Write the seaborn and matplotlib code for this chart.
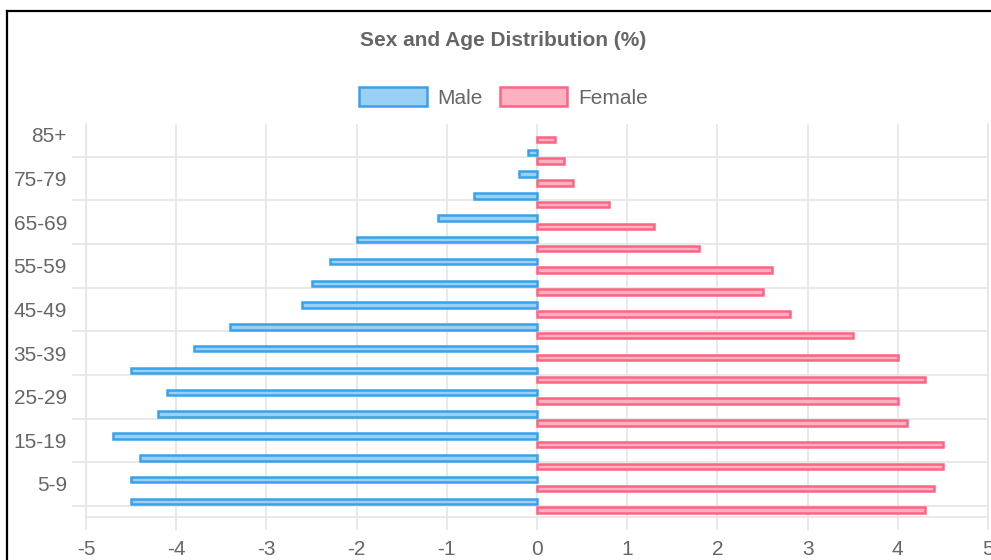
import matplotlib
matplotlib.use("Agg")
import matplotlib.pyplot as plt
import seaborn as sns
import pandas as pd
from matplotlib.patches import Patch
from matplotlib.lines import Line2D

# ---- data ----
age_groups = ["0-4", "5-9", "10-14", "15-19", "20-24", "25-29", "30-34", "35-39",
              "40-44", "45-49", "50-54", "55-59", "60-64", "65-69", "70-74",
              "75-79", "80-84", "85+"]
male = [-4.5, -4.5, -4.4, -4.7, -4.2, -4.1, -4.5, -3.8, -3.4, -2.6, -2.5, -2.3,
        -2.0, -1.1, -0.7, -0.2, -0.1, 0.0]
female = [4.3, 4.4, 4.5, 4.5, 4.1, 4.0, 4.3, 4.0, 3.5, 2.8, 2.5, 2.6, 1.8, 1.3,
          0.8, 0.4, 0.3, 0.2]
series = ["Male", "Female"]
x_ticks = [-5, -4, -3, -2, -1, 0, 1, 2, 3, 4, 5]
title = "Sex and Age Distribution (%)"

# ---- styles ----
edge_colors = {"Male": "#36A2EB", "Female": "#FF6384"}
fill_colors = {"Male": "#9BD0F5", "Female": "#FFB1C1"}
grid_c = "#e5e5e5"
text_c = "#666666"

plt.rcParams["font.family"] = ["Liberation Sans", "DejaVu Sans"]

df = pd.DataFrame({
    "Age": age_groups * 2,
    "Value": male + female,
    "Sex": ["Male"] * len(age_groups) + ["Female"] * len(age_groups),
})
order = age_groups[::-1]

W, H = 991, 560
fig = plt.figure(figsize=(W / 100, H / 100), dpi=100)
ax = fig.add_axes([86 / W, (H - 516.7) / H, (988 - 86) / W, (516.7 - 124) / H])

sns.barplot(data=df, x="Value", y="Age", hue="Sex", order=order,
            hue_order=series, palette=fill_colors, orient="h", gap=0.37,
            errorbar=None, saturation=1, legend=False, ax=ax)

for cont, name in zip(ax.containers, series):
    for bar in cont:
        bar.set_edgecolor(edge_colors[name])
        bar.set_linewidth(1.8 if abs(bar.get_width()) > 1e-9 else 0)

ax.set_xlabel("")
ax.set_ylabel("")
ax.set_xlim(-5, 5)
ax.set_ylim(len(order) - 0.5, -0.5)
ax.set_xticks(x_ticks)
ax.set_xticklabels([str(t) for t in x_ticks])
ax.set_yticks(range(0, len(order), 2))
ax.set_yticklabels(order[::2])
ax.set_yticks(range(1, len(order), 2), minor=True)

ax.set_axisbelow(True)
ax.grid(axis="x", which="major", color=grid_c, lw=1.2)
ax.grid(axis="y", which="minor", color=grid_c, lw=1.2)
ax.grid(axis="y", which="major", visible=False)

ax.tick_params(axis="x", which="major", length=9.5, width=1.2, color=grid_c,
               pad=7, labelsize=15, labelcolor=text_c)
ax.tick_params(axis="y", which="major", length=0, pad=13.7,
               labelsize=15, labelcolor=text_c)
ax.tick_params(axis="y", which="minor", length=10, width=1.2, color=grid_c)

for side in ["left", "right", "bottom"]:
    ax.spines[side].set_color(grid_c)
    ax.spines[side].set_linewidth(1.2)
ax.spines["top"].set_visible(False)

# title and legend
fig.text(503.5 / W, 1 - 40 / H, title, ha="center", va="center",
         fontsize=15, fontweight="bold", color=text_c)
handles = [Patch(facecolor=fill_colors[s], edgecolor=edge_colors[s], lw=1.8, label=s)
           for s in series]
leg = fig.legend(handles=handles, loc="center", bbox_to_anchor=(503.5 / W, 1 - 97.5 / H),
                 ncol=2, frameon=False, fontsize=15, handlelength=3.25,
                 handleheight=1.05, handletextpad=0.5, columnspacing=0.8,
                 borderaxespad=0, borderpad=0)
for t in leg.get_texts():
    t.set_color(text_c)

# page frame lines
fig.add_artist(Line2D([7.3 / W, 1], [1 - 10.5 / H, 1 - 10.5 / H], color="black", lw=1.6))
fig.add_artist(Line2D([7.3 / W, 7.3 / W], [0, 1 - 10.5 / H], color="black", lw=1.6))

fig.savefig("out.png", dpi=100)
